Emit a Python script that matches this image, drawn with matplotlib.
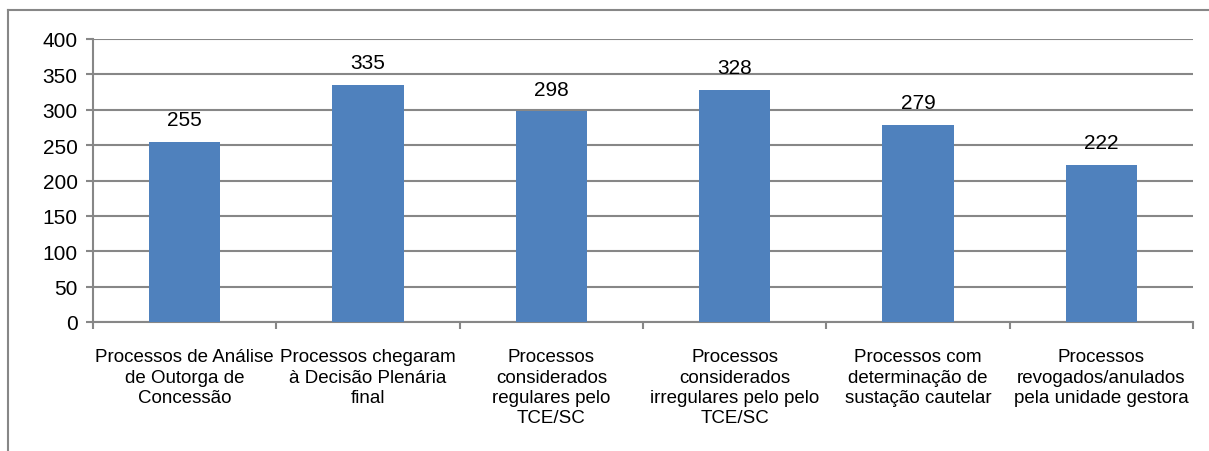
import numpy as np
import matplotlib.pyplot as plt
from matplotlib.lines import Line2D

plt.rcParams['font.family'] = ['Liberation Sans', 'DejaVu Sans']

categories = [
    'Processos de Análise\nde Outorga de\nConcessão',
    'Processos chegaram\nà Decisão Plenária\nfinal',
    'Processos\nconsiderados\nregulares pelo\nTCE/SC',
    'Processos\nconsiderados\nirregulares pelo pelo\nTCE/SC',
    'Processos com\ndeterminação de\nsustação cautelar',
    'Processos\nrevogados/anulados\npela unidade gestora',
]
values = [255, 335, 298, 328, 279, 222]
yticks = [0, 50, 100, 150, 200, 250, 300, 350, 400]

grid_col = '#878787'
bar_col = '#4F81BD'

fig = plt.figure(figsize=(12.09, 4.52), dpi=100)
ax = fig.add_axes([93 / 1209, 1 - 323 / 452, 1100 / 1209, 283 / 452])

x = np.arange(len(values))
bars = ax.bar(x, values, width=0.39, color=bar_col, zorder=3)

# value labels above bars
for xi, v in zip(x, values):
    ax.annotate(str(v), (xi, v), xytext=(0, 9), textcoords='offset points',
                ha='center', va='bottom', fontsize=15)

ax.set_xlim(-0.5, len(values) - 0.5)
ax.set_ylim(0, 400)
ax.set_yticks(yticks)
ax.set_yticklabels([str(t) for t in yticks], fontsize=15)

# category labels between boundary ticks
ax.set_xticks(x)
ax.set_xticklabels(categories, fontsize=13.5, linespacing=1.25, va='top')
ax.tick_params(axis='x', length=0, pad=19)
ax.set_xticks(np.arange(-0.5, len(values)), minor=True)
ax.tick_params(axis='x', which='minor', length=5, width=1.5, color=grid_col, direction='out')
ax.tick_params(axis='y', length=5, width=1.5, color=grid_col, pad=6)

ax.grid(axis='y', color=grid_col, linewidth=1.5, zorder=0)
for s in ['top', 'right']:
    ax.spines[s].set_visible(False)
for s in ['left', 'bottom']:
    ax.spines[s].set_color(grid_col)
    ax.spines[s].set_linewidth(1.5)

# outer chart frame (only left and top visible in crop)
fx = 8 / 1209
fy = 1 - 11 / 452
fig.add_artist(Line2D([fx, fx], [0, fy], transform=fig.transFigure, color=grid_col, linewidth=1.5))
fig.add_artist(Line2D([fx, 1], [fy, fy], transform=fig.transFigure, color=grid_col, linewidth=1.5))

fig.savefig('out.png', dpi=100)
plt.close(fig)
